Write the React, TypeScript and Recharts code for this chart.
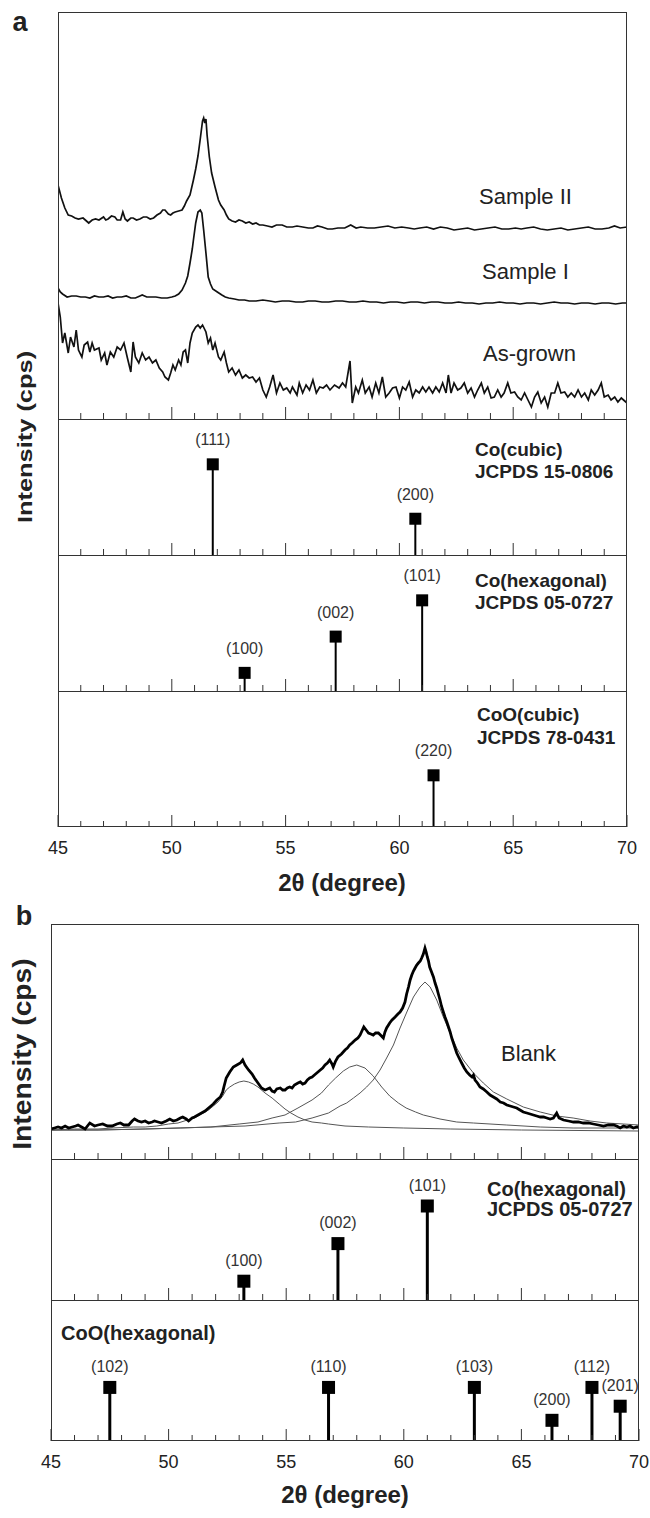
import React from 'react';
import { ComposedChart, Line, Scatter, XAxis, YAxis, ReferenceLine } from 'recharts';

type Pt = [number, number];
type Peak = { hkl: string; x: number; y: number };

// 2θ tick positions (degree), majors every 5
const X_TICKS = [45, 46, 47, 48, 49, 50, 51, 52, 53, 54, 55, 56, 57, 58, 59, 60, 61, 62, 63, 64, 65, 66, 67, 68, 69, 70];

// panel a: measured patterns [2θ, intensity a.u.] (stacked as in the figure)
const SAMPLE_II: Pt[] = [
  [45.0, 234], [45.15, 221], [45.3, 211], [45.45, 204], [45.6, 203], [45.75, 201], [45.9, 200], [46.1, 201], [46.25, 198], [46.35, 196],
  [46.5, 199], [46.65, 200], [46.8, 199], [47.0, 202], [47.1, 199], [47.2, 200], [47.35, 203], [47.5, 202], [47.6, 199], [47.75, 199],
  [47.85, 207], [47.95, 200], [48.05, 198], [48.2, 201], [48.3, 201], [48.45, 199], [48.6, 200], [48.75, 202], [48.9, 202], [49.05, 200],
  [49.2, 201], [49.35, 204], [49.5, 206], [49.6, 209], [49.7, 209], [49.85, 205], [49.95, 204], [50.05, 206], [50.15, 207], [50.3, 208],
  [50.45, 209], [50.55, 213], [50.65, 218], [50.8, 224], [50.95, 239], [51.05, 250], [51.15, 263], [51.25, 280], [51.35, 298], [51.4, 301],
  [51.45, 296], [51.5, 300], [51.55, 284], [51.65, 262], [51.75, 246], [51.9, 232], [52.05, 219], [52.15, 214], [52.3, 209], [52.4, 204],
  [52.5, 200], [52.65, 198], [52.8, 197], [52.95, 199], [53.1, 198], [53.25, 196], [53.4, 197], [53.55, 195], [53.7, 196], [53.85, 194],
  [54.0, 194], [54.2, 193], [54.4, 192], [54.6, 194], [54.85, 194], [55.05, 192], [55.3, 192], [55.5, 193], [55.75, 192], [56.0, 191],
  [56.2, 191], [56.4, 193], [56.6, 192], [56.85, 190], [57.05, 190], [57.3, 191], [57.6, 191], [57.86, 194], [58.1, 191], [58.3, 192],
  [58.6, 191], [58.9, 191], [59.2, 192], [59.5, 193], [59.8, 191], [60.1, 192], [60.4, 191], [60.65, 190], [60.9, 191], [61.2, 192],
  [61.5, 190], [61.8, 192], [62.1, 191], [62.4, 189], [62.7, 190], [63.0, 191], [63.3, 189], [63.6, 190], [63.9, 191], [64.2, 192],
  [64.5, 190], [64.8, 190], [65.1, 191], [65.35, 190], [65.6, 191], [65.9, 192], [66.2, 190], [66.5, 189], [66.8, 190], [67.1, 191],
  [67.4, 189], [67.7, 190], [68.0, 191], [68.3, 192], [68.6, 190], [68.9, 190], [69.2, 191], [69.45, 193], [69.7, 191], [70.0, 192],
];

const SAMPLE_I: Pt[] = [
  [45.0, 131], [45.1, 127], [45.2, 125], [45.4, 122], [45.6, 123], [45.8, 123], [46.0, 122], [46.2, 122], [46.4, 121], [46.6, 123],
  [46.8, 122], [47.0, 122], [47.2, 123], [47.4, 121], [47.6, 122], [47.8, 122], [48.0, 123], [48.2, 121], [48.4, 121], [48.6, 123],
  [48.7, 124], [48.9, 122], [49.1, 122], [49.3, 122], [49.55, 121], [49.8, 121], [50.0, 122], [50.15, 123], [50.3, 125], [50.45, 129],
  [50.6, 136], [50.7, 143], [50.8, 156], [50.9, 170], [50.95, 179], [51.05, 196], [51.15, 207], [51.25, 209], [51.32, 206], [51.4, 189],
  [51.5, 166], [51.6, 142], [51.7, 135], [51.8, 130], [52.0, 127], [52.2, 124], [52.35, 122], [52.5, 121], [52.75, 120], [52.95, 119],
  [53.2, 119], [53.4, 118], [53.7, 118], [54.0, 119], [54.3, 118], [54.55, 117], [54.85, 118], [55.15, 118], [55.45, 117], [55.75, 117],
  [56.0, 118], [56.3, 118], [56.6, 117], [56.9, 117], [57.2, 118], [57.5, 118], [57.8, 117], [58.1, 117], [58.4, 118], [58.7, 117],
  [59.0, 117], [59.3, 116], [59.6, 117], [59.9, 117], [60.2, 116], [60.5, 117], [60.8, 117], [61.1, 116], [61.4, 117], [61.7, 117],
  [62.0, 116], [62.3, 116], [62.6, 117], [62.9, 116], [63.2, 116], [63.5, 115], [63.8, 116], [64.1, 116], [64.4, 117], [64.7, 116],
  [65.0, 116], [65.3, 115], [65.6, 116], [65.9, 116], [66.2, 115], [66.5, 116], [66.8, 117], [67.1, 116], [67.4, 116], [67.7, 115],
  [68.0, 116], [68.3, 116], [68.6, 115], [68.9, 116], [69.2, 116], [69.5, 115], [69.8, 116], [70.0, 116],
];

const AS_GROWN: Pt[] = [
  [45.0, 116], [45.1, 102], [45.2, 76], [45.3, 86], [45.45, 66], [45.55, 82], [45.7, 72], [45.8, 89], [45.9, 69], [46.05, 62],
  [46.15, 74], [46.3, 77], [46.4, 67], [46.5, 76], [46.6, 69], [46.8, 71], [46.9, 59], [47.05, 66], [47.15, 54], [47.3, 67],
  [47.45, 62], [47.6, 72], [47.75, 69], [47.9, 76], [48.05, 61], [48.2, 47], [48.3, 77], [48.4, 62], [48.55, 56], [48.7, 66],
  [48.85, 59], [49.0, 62], [49.15, 56], [49.3, 59], [49.45, 51], [49.6, 47], [49.7, 42], [49.85, 39], [49.95, 46], [50.05, 54],
  [50.15, 49], [50.3, 59], [50.4, 54], [50.5, 67], [50.6, 69], [50.7, 56], [50.8, 76], [50.9, 86], [51.05, 92], [51.15, 94],
  [51.25, 91], [51.35, 94], [51.5, 87], [51.6, 76], [51.7, 81], [51.8, 69], [51.9, 76], [52.05, 62], [52.15, 59], [52.3, 67],
  [52.4, 56], [52.5, 47], [52.65, 51], [52.8, 44], [52.95, 49], [53.1, 41], [53.25, 44], [53.4, 41], [53.55, 42], [53.7, 37],
  [53.85, 41], [54.0, 29], [54.15, 22], [54.3, 32], [54.45, 44], [54.6, 26], [54.75, 36], [54.9, 29], [55.05, 31], [55.2, 26],
  [55.3, 32], [55.5, 24], [55.6, 36], [55.75, 26], [55.9, 34], [56.05, 29], [56.2, 39], [56.35, 26], [56.5, 32], [56.65, 31],
  [56.8, 34], [56.95, 29], [57.15, 34], [57.35, 31], [57.5, 36], [57.64, 32], [57.83, 58], [57.93, 16], [58.08, 32], [58.2, 26],
  [58.37, 39], [58.5, 26], [58.67, 32], [58.8, 22], [58.96, 36], [59.1, 26], [59.25, 42], [59.4, 22], [59.55, 26], [59.7, 31],
  [59.85, 32], [60.0, 21], [60.14, 32], [60.28, 29], [60.43, 37], [60.58, 22], [60.72, 29], [60.87, 26], [61.02, 32], [61.16, 27],
  [61.3, 32], [61.46, 26], [61.6, 32], [61.75, 27], [61.9, 36], [62.05, 26], [62.15, 44], [62.27, 26], [62.4, 36], [62.56, 29],
  [62.7, 31], [62.85, 36], [63.0, 26], [63.15, 31], [63.3, 22], [63.44, 29], [63.6, 36], [63.73, 26], [63.88, 32], [64.03, 21],
  [64.17, 22], [64.32, 29], [64.47, 22], [64.6, 26], [64.76, 36], [64.9, 26], [65.06, 27], [65.2, 22], [65.35, 19], [65.5, 26],
  [65.65, 19], [65.8, 12], [65.94, 22], [66.08, 27], [66.23, 16], [66.38, 22], [66.52, 12], [66.67, 26], [66.82, 26], [66.96, 36],
  [67.1, 26], [67.26, 27], [67.4, 22], [67.55, 26], [67.7, 22], [67.85, 29], [68.0, 22], [68.14, 26], [68.3, 19], [68.43, 29],
  [68.58, 24], [68.73, 29], [68.87, 36], [69.0, 22], [69.17, 24], [69.3, 19], [69.46, 22], [69.6, 17], [69.75, 21], [70.0, 16],
];

// panel b: measured Blank pattern and the three fitted peaks
const BLANK: Pt[] = [
  [45.0, 30], [45.15, 31], [45.3, 32], [45.45, 31], [45.6, 33], [45.75, 31], [45.9, 32], [46.05, 33], [46.15, 34], [46.3, 32],
  [46.45, 30], [46.65, 36], [46.85, 33], [47.0, 34], [47.2, 35], [47.4, 33], [47.6, 33], [47.8, 35], [47.95, 36], [48.1, 34],
  [48.3, 34], [48.45, 38], [48.55, 40], [48.7, 38], [48.85, 37], [49.0, 38], [49.15, 36], [49.3, 37], [49.4, 38], [49.55, 37],
  [49.7, 36], [49.9, 38], [50.05, 40], [50.2, 38], [50.35, 39], [50.5, 41], [50.6, 42], [50.75, 40], [50.85, 38], [51.0, 41],
  [51.1, 42], [51.25, 44], [51.4, 46], [51.55, 48], [51.7, 51], [51.8, 53], [51.9, 55], [52.05, 59], [52.2, 62], [52.3, 67],
  [52.35, 72], [52.45, 81], [52.6, 87], [52.75, 92], [52.9, 94], [53.05, 96], [53.15, 99], [53.25, 94], [53.4, 89], [53.55, 85],
  [53.65, 81], [53.8, 76], [53.95, 71], [54.1, 69], [54.2, 70], [54.3, 71], [54.4, 68], [54.5, 67], [54.6, 70], [54.75, 71],
  [54.85, 69], [54.95, 69], [55.05, 71], [55.15, 72], [55.25, 71], [55.35, 74], [55.5, 76], [55.6, 77], [55.7, 75], [55.8, 76],
  [55.9, 79], [56.0, 81], [56.1, 82], [56.2, 84], [56.3, 86], [56.45, 89], [56.55, 91], [56.65, 94], [56.75, 96], [56.85, 99],
  [56.95, 95], [57.0, 92], [57.1, 98], [57.2, 102], [57.35, 105], [57.5, 109], [57.6, 111], [57.7, 114], [57.8, 116], [57.93, 119],
  [58.05, 121], [58.14, 124], [58.22, 128], [58.3, 132], [58.4, 129], [58.5, 126], [58.6, 125], [58.7, 124], [58.8, 126], [58.92, 126],
  [59.05, 123], [59.13, 121], [59.2, 127], [59.27, 131], [59.4, 136], [59.5, 139], [59.63, 142], [59.75, 145], [59.84, 147], [59.95, 151],
  [60.05, 157], [60.12, 165], [60.2, 172], [60.27, 179], [60.34, 184], [60.41, 188], [60.48, 191], [60.55, 194], [60.62, 196], [60.7, 198],
  [60.76, 201], [60.83, 205], [60.9, 211], [60.95, 207], [61.0, 202], [61.05, 198], [61.1, 192], [61.18, 187], [61.26, 182], [61.33, 176],
  [61.4, 171], [61.47, 165], [61.54, 159], [61.6, 153], [61.68, 147], [61.75, 142], [61.83, 137], [61.9, 132], [61.97, 127], [62.04, 121],
  [62.11, 116], [62.18, 111], [62.25, 106], [62.35, 101], [62.46, 96], [62.57, 91], [62.68, 87], [62.8, 84], [62.9, 82], [62.96, 84],
  [63.03, 79], [63.13, 76], [63.24, 72], [63.38, 70], [63.53, 67], [63.67, 64], [63.81, 62], [63.95, 60], [64.1, 57], [64.24, 56],
  [64.38, 54], [64.52, 53], [64.66, 52], [64.8, 51], [64.94, 49], [65.08, 47], [65.23, 46], [65.37, 45], [65.51, 44], [65.65, 43],
  [65.8, 42], [65.94, 42], [66.08, 41], [66.22, 40], [66.36, 41], [66.5, 46], [66.6, 41], [66.79, 39], [67.0, 38], [67.21, 37],
  [67.42, 37], [67.63, 36], [67.85, 36], [68.06, 35], [68.27, 34], [68.49, 33], [68.7, 34], [68.91, 34], [69.05, 33], [69.2, 31],
  [69.34, 33], [69.48, 32], [69.62, 33], [69.76, 31], [69.9, 32], [70.0, 32],
];

const FIT_100: Pt[] = [
  [45, 29], [46, 30], [47, 30], [47.6, 31], [48.5, 32], [49, 32], [49.5, 33], [50, 35], [50.4, 36], [50.8, 39], [51.1, 41], [51.4, 45],
  [51.7, 49], [51.9, 53], [52.1, 57], [52.3, 63], [52.45, 69], [52.6, 72], [52.8, 75], [53.0, 77], [53.2, 78], [53.4, 77], [53.6, 75],
  [53.8, 72], [54.1, 66], [54.4, 61], [54.7, 55], [54.95, 50], [55.2, 46], [55.5, 42], [55.8, 39], [56.1, 37], [56.5, 36], [56.8, 35],
  [57.5, 33], [58.5, 32], [60, 31], [62, 30], [65, 29], [70, 28],
];

const FIT_002: Pt[] = [
  [45, 29], [47, 29], [49, 30], [50.4, 31], [51.8, 32], [53.0, 35], [53.8, 37], [54.4, 41], [54.95, 44], [55.5, 51], [56.1, 59],
  [56.5, 66], [56.8, 74], [57.1, 81], [57.43, 88], [57.7, 92], [58.0, 94], [58.35, 91], [58.7, 83], [59.06, 72], [59.4, 63],
  [59.77, 56], [60.1, 51], [60.5, 47], [60.83, 44], [61.54, 40], [62.25, 37], [62.96, 36], [64.38, 34], [65.8, 32], [67.2, 31], [70, 31],
];

const FIT_101: Pt[] = [
  [45, 29], [47, 29], [49, 30], [50.5, 31], [51.8, 32], [53.25, 33], [54.7, 36], [55.4, 37], [56.1, 41], [56.8, 46], [57.29, 53],
  [57.57, 56], [57.86, 61], [58.14, 66], [58.42, 72], [58.7, 79], [58.99, 89], [59.27, 101], [59.56, 114], [59.84, 131], [60.13, 147],
  [60.41, 162], [60.69, 172], [60.9, 177], [61.12, 172], [61.4, 159], [61.68, 142], [61.97, 126], [62.25, 111], [62.53, 99], [62.96, 86],
  [63.38, 76], [63.81, 67], [64.38, 60], [65.08, 52], [65.8, 47], [66.5, 43], [67.2, 41], [67.92, 38], [68.63, 36], [69.34, 35], [70, 34],
];

// reference patterns: hkl, 2θ, relative intensity
const CO_CUBIC: Peak[] = [
  { hkl: '(111)', x: 51.8, y: 100 },
  { hkl: '(200)', x: 60.7, y: 40 },
];
const CO_HEX: Peak[] = [
  { hkl: '(100)', x: 53.2, y: 20 },
  { hkl: '(002)', x: 57.2, y: 60 },
  { hkl: '(101)', x: 61.0, y: 100 },
];
const COO_CUBIC: Peak[] = [{ hkl: '(220)', x: 61.5, y: 57 }];
const COO_HEX: Peak[] = [
  { hkl: '(102)', x: 47.5, y: 57 },
  { hkl: '(110)', x: 56.8, y: 57 },
  { hkl: '(103)', x: 63.0, y: 57 },
  { hkl: '(200)', x: 66.3, y: 22 },
  { hkl: '(112)', x: 68.0, y: 57 },
  { hkl: '(201)', x: 69.2, y: 37 },
];

const FONT = '"Liberation Sans", Arial, Helvetica, sans-serif';
const INK = '#222';
const LABEL_SPACE = 44;

const rows = (pts: Pt[]) => pts.map(([x, y]) => ({ x, y }));

// ticks point inward from the bottom edge; labels only on the lowest strip
const tickRenderer = (withLabels: boolean) => (props: any) => {
  const { x, y, payload } = props;
  const major = payload.value % 5 === 0;
  return (
    <g>
      <line x1={x} x2={x} y1={y} y2={y - (major ? 12 : 6)} stroke="#333" strokeWidth={1} />
      {withLabels && major ? (
        <text x={x} y={y + 27} textAnchor="middle" fontSize={18} fontFamily={FONT} fill={INK}>
          {payload.value}
        </text>
      ) : null}
    </g>
  );
};

const twoThetaAxis = (withLabels: boolean) => (
  <XAxis
    type="number"
    dataKey="x"
    domain={[45, 70]}
    ticks={X_TICKS}
    interval={0}
    tick={tickRenderer(withLabels)}
    tickLine={false}
    axisLine={false}
    tickSize={0}
    tickMargin={0}
    height={1}
    mirror
    allowDataOverflow
  />
);

const markerShape = (size: number, gap: number) => (props: any) => {
  const { cx, cy, payload } = props;
  if (cx == null || cy == null) return <g />;
  return (
    <g>
      <rect x={cx - size / 2} y={cy - size / 2} width={size} height={size} fill="#000" />
      <text x={cx} y={cy - size / 2 - gap} textAnchor="middle" fontSize={16} fontFamily={FONT} fill="#333">
        {payload.hkl}
      </text>
    </g>
  );
};

function StickChart(props: {
  peaks: Peak[]; width: number; height: number; withLabels?: boolean;
  stick: number; marker: number; gap: number; padLeft?: number; padRight?: number;
}) {
  const { peaks, width, height, withLabels = false, stick, marker, gap, padLeft = 0, padRight = 0 } = props;
  const extra = withLabels ? LABEL_SPACE : 0;
  return (
    <ComposedChart
      width={width + padLeft + padRight}
      height={height + extra}
      margin={{ top: 0, right: padRight, bottom: extra, left: padLeft }}
    >
      {twoThetaAxis(withLabels)}
      <YAxis type="number" domain={[0, 150]} hide />
      {peaks.map((p) => (
        <ReferenceLine
          key={p.hkl + p.x}
          segment={[{ x: p.x, y: 0 }, { x: p.x, y: p.y }]}
          stroke="#000"
          strokeWidth={stick}
        />
      ))}
      <Scatter data={peaks} dataKey="y" isAnimationActive={false} shape={markerShape(marker, gap)} />
    </ComposedChart>
  );
}

function Place({ left, top, children }: { left: number; top: number; children: React.ReactNode }) {
  return <div style={{ position: 'absolute', left, top }}>{children}</div>;
}

function Txt(props: {
  x: number; y: number; size: number; bold?: boolean; center?: boolean; lh?: number; children: React.ReactNode;
}) {
  const { x, y, size, bold, center, lh, children } = props;
  return (
    <div
      style={{
        position: 'absolute', left: x, top: y,
        transform: `translate(${center ? '-50%' : '0'}, -50%)`,
        fontSize: size, fontWeight: bold ? 700 : 400, lineHeight: lh ? `${lh}px` : 1,
        whiteSpace: 'pre', color: INK, fontFamily: FONT,
      }}
    >
      {children}
    </div>
  );
}

// the y title in the figure is drawn stretched along its length
function YTitle({ x, y, size, stretch }: { x: number; y: number; size: number; stretch: number }) {
  return (
    <div
      style={{
        position: 'absolute', left: x, top: y,
        transform: `translate(-50%, -50%) rotate(-90deg) scaleX(${stretch})`,
        fontSize: size, fontWeight: 700, lineHeight: 1, whiteSpace: 'nowrap', color: INK, fontFamily: FONT,
      }}
    >
      Intensity (cps)
    </div>
  );
}

function Frame({ left, top, width, height }: { left: number; top: number; width: number; height: number }) {
  return (
    <div
      style={{
        position: 'absolute', left, top, width, height, boxSizing: 'border-box',
        border: '1px solid #333', pointerEvents: 'none',
      }}
    />
  );
}

function Rule({ left, top, width }: { left: number; top: number; width: number }) {
  return <div style={{ position: 'absolute', left, top, width, height: 1, background: '#333' }} />;
}

// layout of the two stacked panels (page pixels)
const A = { left: 58, width: 569, tops: [12, 419, 555, 691], bottom: 827 };
const B = { left: 51, width: 588, tops: [924, 1159, 1300], bottom: 1441 };
const PAD = 20;

export default function App() {
  const aTopH = A.tops[1] - A.tops[0];
  const bTopH = B.tops[1] - B.tops[0];
  const traceStyle = { type: 'linear' as const, dataKey: 'y', dot: false, isAnimationActive: false };

  return (
    <div style={{ position: 'absolute', left: 0, top: 0, width: 650, height: 1518, background: '#fff', fontFamily: FONT }}>
      {/* ---------- panel a ---------- */}
      <Place left={A.left} top={A.tops[0]}>
        <ComposedChart width={A.width} height={aTopH} margin={{ top: 0, right: 0, bottom: 0, left: 0 }}>
          {twoThetaAxis(false)}
          <YAxis type="number" domain={[0, aTopH]} hide />
          <Line {...traceStyle} data={rows(SAMPLE_II)} stroke="#111" strokeWidth={1.7} />
          <Line {...traceStyle} data={rows(SAMPLE_I)} stroke="#111" strokeWidth={1.7} />
          <Line {...traceStyle} data={rows(AS_GROWN)} stroke="#111" strokeWidth={1.7} />
        </ComposedChart>
      </Place>
      <Place left={A.left} top={A.tops[1]}>
        <StickChart peaks={CO_CUBIC} width={A.width} height={A.tops[2] - A.tops[1]} stick={2} marker={12} gap={13} />
      </Place>
      <Place left={A.left} top={A.tops[2]}>
        <StickChart peaks={CO_HEX} width={A.width} height={A.tops[3] - A.tops[2]} stick={2} marker={12} gap={13} />
      </Place>
      <Place left={A.left - PAD} top={A.tops[3]}>
        <StickChart
          peaks={COO_CUBIC} width={A.width} height={A.bottom - A.tops[3]} stick={2} marker={12} gap={13}
          withLabels padLeft={PAD} padRight={650 - A.left - A.width}
        />
      </Place>
      <Frame left={A.left} top={A.tops[0]} width={A.width} height={A.bottom - A.tops[0]} />
      <Rule left={A.left} top={A.tops[1]} width={A.width} />
      <Rule left={A.left} top={A.tops[2]} width={A.width} />
      <Rule left={A.left} top={A.tops[3]} width={A.width} />

      <Txt x={20} y={22} size={27} bold center>a</Txt>
      <Txt x={479} y={197} size={22}>Sample II</Txt>
      <Txt x={482} y={272} size={22}>Sample I</Txt>
      <Txt x={483} y={354} size={22}>As-grown</Txt>
      <Txt x={475} y={461} size={19} bold lh={22}>{'Co(cubic)\nJCPDS 15-0806'}</Txt>
      <Txt x={475} y={592} size={19} bold lh={22}>{'Co(hexagonal)\nJCPDS 05-0727'}</Txt>
      <Txt x={477} y={726} size={19} bold lh={23}>{'CoO(cubic)\nJCPDS 78-0431'}</Txt>
      <Txt x={342} y={883} size={24} bold center>2θ (degree)</Txt>
      <YTitle x={25} y={437} size={20} stretch={1.27} />

      {/* ---------- panel b ---------- */}
      <Place left={B.left} top={B.tops[0]}>
        <ComposedChart width={B.width} height={bTopH} margin={{ top: 0, right: 0, bottom: 0, left: 0 }}>
          {twoThetaAxis(false)}
          <YAxis type="number" domain={[0, bTopH]} hide />
          <Line {...traceStyle} data={rows(FIT_100)} stroke="#555" strokeWidth={1} />
          <Line {...traceStyle} data={rows(FIT_002)} stroke="#555" strokeWidth={1} />
          <Line {...traceStyle} data={rows(FIT_101)} stroke="#555" strokeWidth={1} />
          <Line {...traceStyle} data={rows(BLANK)} stroke="#000" strokeWidth={2.8} />
        </ComposedChart>
      </Place>
      <Place left={B.left} top={B.tops[1]}>
        <StickChart peaks={CO_HEX} width={B.width} height={B.tops[2] - B.tops[1]} stick={3} marker={13} gap={9} />
      </Place>
      <Place left={B.left - PAD} top={B.tops[2]}>
        <StickChart
          peaks={COO_HEX} width={B.width} height={B.bottom - B.tops[2]} stick={3} marker={13} gap={9}
          withLabels padLeft={PAD} padRight={650 - B.left - B.width}
        />
      </Place>
      <Frame left={B.left} top={B.tops[0]} width={B.width} height={B.bottom - B.tops[0]} />
      <Rule left={B.left} top={B.tops[1]} width={B.width} />
      <Rule left={B.left} top={B.tops[2]} width={B.width} />

      <Txt x={24} y={916} size={27} bold center>b</Txt>
      <Txt x={501} y={1054} size={22}>Blank</Txt>
      <Txt x={487} y={1199} size={20} bold lh={20}>{'Co(hexagonal)\nJCPDS 05-0727'}</Txt>
      <Txt x={61} y={1333} size={20} bold>CoO(hexagonal)</Txt>
      <Txt x={345} y={1495} size={24} bold center>2θ (degree)</Txt>
      <YTitle x={22} y={1054} size={25} stretch={1.13} />
    </div>
  );
}
